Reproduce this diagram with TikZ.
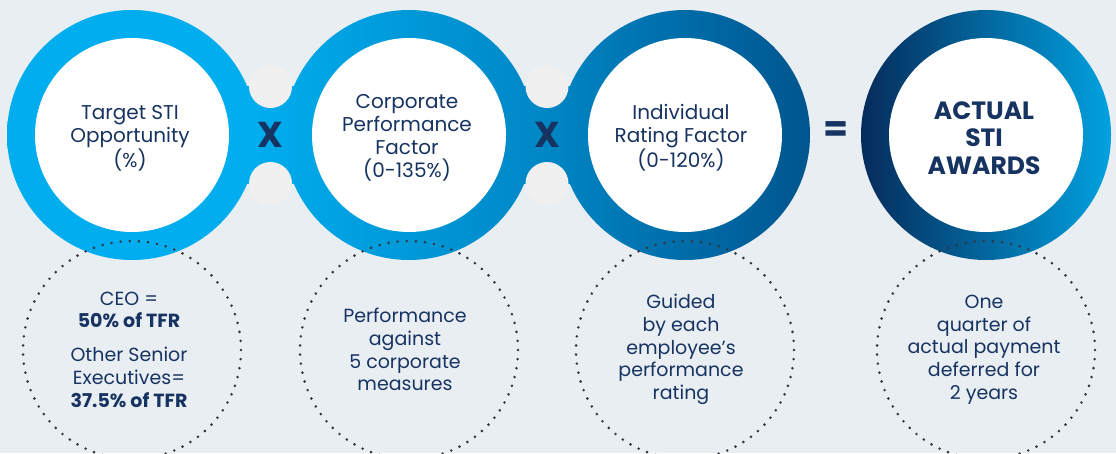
\documentclass[tikz,border=0pt]{standalone}
\usepackage{fontspec}
\setmainfont{Poppins}
\definecolor{bg}{HTML}{E9EEF3}
\definecolor{graycirc}{HTML}{F0F0F0}
\definecolor{cA}{HTML}{00AEEF}
\definecolor{cB}{HTML}{0086C5}
\definecolor{cC}{HTML}{00558E}
\definecolor{navyR}{HTML}{062B5B}
\definecolor{cyanR}{HTML}{00A2E0}
\definecolor{txt}{HTML}{173361}
\definecolor{dotc}{HTML}{34373F}
\pgfdeclarehorizontalshading{chainshade}{100bp}{color(0bp)=(cA); color(40bp)=(cA); color(58.6bp)=(cB); color(75bp)=(cC); color(100bp)=(cC)}
\tikzset{
  ringtxt/.style={align=center, text=txt, inner sep=0pt, font=\fontsize{20}{23}\selectfont},
  awardtxt/.style={align=center, text=txt, inner sep=0pt, font=\bfseries\fontsize{25}{27.5}\selectfont},
  dottxt/.style={align=center, text=txt, inner sep=0pt, font=\fontsize{19}{22.7}\selectfont},
  symb/.style={text=txt, inner sep=0pt, font=\bfseries\fontsize{36}{36}\selectfont},
  hole/.style={fill=white},
  notch/.style={fill=graycirc}
}
\begin{document}
\begin{tikzpicture}[x=1pt,y=-1pt]
\useasboundingbox (0,0) rectangle (1116,453);
\fill[bg] (0,0) rectangle (1116,453);
% chain of three rings with necks, one common gradient
\foreach \cx in {132,409,685}{
  \begin{scope}
    \clip (\cx,135) circle (125pt);
    \shade[shading=chainshade] (7,8) rectangle (810,262);
  \end{scope}
}
\foreach \nx in {270.5,547}{
  \begin{scope}
    \clip (\nx-26,86.5) rectangle (\nx+26,183.5);
    \shade[shading=chainshade] (7,8) rectangle (810,262);
  \end{scope}
}
\foreach \cx in {132,409,685}{
  \fill[hole] (\cx,135) circle (97pt);
}
\foreach \nx in {270.5,547}{
  \fill[notch] (\nx,86.5) circle (21.5pt);
  \fill[notch] (\nx,183.5) circle (21.5pt);
}
% result ring
\shade[left color=navyR, right color=cyanR] (986,135) circle (125pt);
\fill[hole] (986,135) circle (97pt);
% dotted circles
\foreach \cx in {132,409,685,986}{
  \foreach \a in {0,4.8,...,355.3}{
    \fill[dotc] ({\cx+109*cos(\a)},{350+109*sin(\a)}) circle (1.45pt);
  }
}
% ring texts
\node[ringtxt] (t1) at (130,138) {Target STI\\Opportunity\\(\%)};
\node[ringtxt] (t2) at (407,137.5) {Corporate\\Performance\\Factor\\(0-135\%)};
\node[ringtxt] (t3) at (681,137.5) {Individual\\Rating Factor\\(0-120\%)};
\node[awardtxt] (t4) at (984,138) {ACTUAL\\STI\\AWARDS};
% operators
\node[symb] (op1) at (270.5,135) {X};
\node[symb] (op2) at (547,135) {X};
\node[symb] (op3) at (836,131.5) {=};
% dotted circle texts
\node[dottxt] (d1) at (129,349.5) {CEO =\\\textbf{50\% of TFR}\\[11pt]Other Senior\\Executives=\\\textbf{37.5\% of TFR}};
\node[dottxt] (d2) at (405,349.5) {Performance\\against\\5 corporate\\measures};
\node[dottxt] (d3) at (681,349.5) {Guided\\by each\\employee’s\\performance\\rating};
\node[dottxt] (d4) at (984,349.5) {One\\quarter of\\actual payment\\deferred for\\2 years};
\end{tikzpicture}
\end{document}
